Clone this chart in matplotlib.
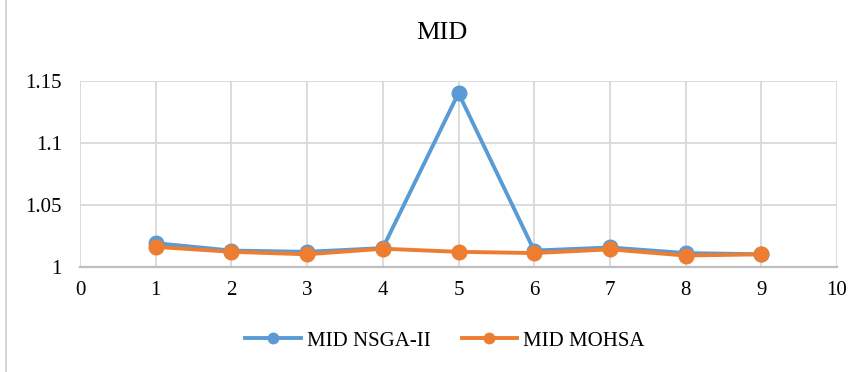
import matplotlib
matplotlib.use("Agg")
import matplotlib.pyplot as plt
from matplotlib.lines import Line2D

# Run index and MID values for each algorithm
runs = [1, 2, 3, 4, 5, 6, 7, 8, 9]
mid_nsga2 = [1.019, 1.013, 1.012, 1.015, 1.140, 1.013, 1.0155, 1.011, 1.010]
mid_mohsa = [1.016, 1.012, 1.010, 1.0145, 1.012, 1.011, 1.014, 1.009, 1.010]

x_ticks = [0, 1, 2, 3, 4, 5, 6, 7, 8, 9, 10]
y_ticks = [1.0, 1.05, 1.1, 1.15]
y_tick_labels = ["1", "1.05", "1.1", "1.15"]

blue = "#5B9BD5"
orange = "#ED7D31"
grid_c = "#D9D9D9"
axis_c = "#BFBFBF"

plt.rcParams["font.family"] = ["Liberation Serif", "DejaVu Serif"]

fig = plt.figure(figsize=(8.66, 3.72), dpi=100)
ax = fig.add_axes([80 / 866, 1 - 266.7 / 372, (837 - 80) / 866, (266.7 - 80.7) / 372])

ax.plot(runs, mid_nsga2, color=blue, lw=2.8, marker="o", ms=10.5,
        label="MID NSGA-II", zorder=3, solid_joinstyle="round")
ax.plot(runs, mid_mohsa, color=orange, lw=2.8, marker="o", ms=10.5,
        label="MID MOHSA", zorder=4, solid_joinstyle="round")

ax.set_xlim(0, 10)
ax.set_ylim(1.0, 1.15)
ax.set_xticks(x_ticks)
ax.set_yticks(y_ticks)
ax.set_yticklabels(y_tick_labels)
ax.tick_params(length=0, labelsize=15, colors="black")
ax.tick_params(axis="x", pad=10)
ax.tick_params(axis="y", pad=13)

ax.grid(True, color=grid_c, lw=1.3, zorder=0)
for s in ["top", "right", "left"]:
    ax.spines[s].set_visible(False)
ax.spines["bottom"].set_color(axis_c)
ax.spines["bottom"].set_linewidth(1.6)
ax.set_axisbelow(True)

ax.set_title("MID", fontsize=19, pad=30, x=(442 - 80) / 757)

handles = [
    Line2D([0], [0], color=blue, lw=2.8, marker="o", ms=7.5),
    Line2D([0], [0], color=orange, lw=2.8, marker="o", ms=7.5),
]
fig.legend(handles, ["MID NSGA-II", "MID MOHSA"], loc="center",
           bbox_to_anchor=(0.514, 1 - 341 / 372), ncol=2, frameon=False,
           fontsize=15, handlelength=2.65, columnspacing=1.5, handletextpad=0.3)

# light frame line along the left edge of the chart area
fig.add_artist(Line2D([6 / 866, 6 / 866], [0, 1], color="#D0D0D0", lw=1.2,
                      transform=fig.transFigure))

fig.savefig("out.png", dpi=100)
